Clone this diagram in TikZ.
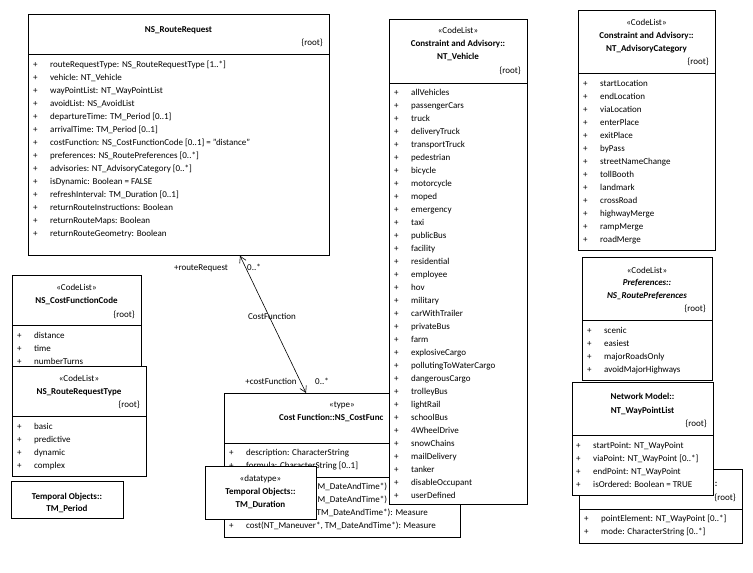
\documentclass[tikz,border=0pt]{standalone}
\usepackage{fontspec}
\setmainfont{Carlito}
\usetikzlibrary{arrows.meta}

\begin{document}
\begin{tikzpicture}
  [x=1pt,y=-1pt,
    every node/.style={inner sep=0pt,font=\fontsize{9}{13}\selectfont},
    box/.style={draw,fill=white,line width=0.8pt,anchor=north west},
    ttl/.style={anchor=mid,font=\fontsize{9}{13}\selectfont\bfseries},
    ster/.style={anchor=mid},
    root/.style={anchor=mid east},
    list/.style={anchor=north west},
    frag/.style={anchor=mid west},
    lbl/.style={anchor=mid},
    assoc/.style={line width=0.6pt,{Straight Barb[angle=60:7pt]}-{Straight Barb[angle=60:7pt]}},
]
  \useasboundingbox (0,0) rectangle (753,573);

  % route request
  \node[box,minimum width=301pt,minimum height=241pt] (req) at (28,14) {};
  \draw (28,54) -- (329,54);
  \node[ttl] (reqname) at (178.5,30) {NS\_RouteRequest};
  \node[root] (reqroot) at (323,43) {\{root\}};
  \node[list] (reqattr) at (33,58) {\begin{tabular}{@{}p{17pt}@{}l@{}}
    + & routeRequestType: NS\_RouteRequestType [1..*]\\
    + & vehicle: NT\_Vehicle\\
    + & wayPointList: NT\_WayPointList\\
    + & avoidList: NS\_AvoidList\\
    + & departureTime: TM\_Period [0..1]\\
    + & arrivalTime: TM\_Period [0..1]\\
    + & costFunction: NS\_CostFunctionCode [0..1] = "distance"\\
    + & preferences: NS\_RoutePreferences [0..*]\\
    + & advisories: NT\_AdvisoryCategory [0..*]\\
    + & isDynamic: Boolean = FALSE\\
    + & refreshInterval: TM\_Duration [0..1]\\
    + & returnRouteInstructions: Boolean\\
    + & returnRouteMaps: Boolean\\
    + & returnRouteGeometry: Boolean
  \end{tabular}};

  % cost function code
  \node[box,minimum width=129pt,minimum height=100pt] (cfc) at (12,275) {};
  \draw (12,325) -- (141,325);
  \node[ster] (cfcster) at (76.5,288) {«CodeList»};
  \node[ttl] (cfcname) at (76.5,301) {NS\_CostFunctionCode};
  \node[root] (cfcroot) at (135,315) {\{root\}};
  \node[list] (cfcattr) at (17,329) {\begin{tabular}{@{}p{17pt}@{}l@{}}
    + & distance\\
    + & time\\
    + & numberTurns
  \end{tabular}};

  % route request type
  \node[box,minimum width=134pt,minimum height=110pt] (rrt) at (12,366) {};
  \draw (12,416) -- (146,416);
  \node[ster] (rrtster) at (79,379) {«CodeList»};
  \node[ttl] (rrtname) at (79,392) {NS\_RouteRequestType};
  \node[root] (rrtroot) at (140,405) {\{root\}};
  \node[list] (rrtattr) at (17,420) {\begin{tabular}{@{}p{17pt}@{}l@{}}
    + & basic\\
    + & predictive\\
    + & dynamic\\
    + & complex
  \end{tabular}};

  % period
  \node[box,minimum width=112pt,minimum height=37pt] (period) at (11,481) {};
  \node[ttl] (periodpkg) at (67,497) {Temporal Objects::};
  \node[ttl] (periodname) at (67,509) {TM\_Period};

  % cost function
  \node[box,minimum width=236pt,minimum height=144pt] (cost) at (224,393) {};
  \draw (224,443) -- (460,443);
  \draw (224,477) -- (460,477);
  \node[ster] (costster) at (342,405) {«type»};
  \node[ttl,anchor=mid west] (costname) at (279,418) {Cost Function::NS\_CostFunc};
  \node[list] (costattr) at (229,446.5) {\begin{tabular}{@{}p{17pt}@{}l@{}}
    + & description: CharacterString\\
    + & formula: CharacterString [0..1]
  \end{tabular}};
  \node[frag] (costop1) at (317.5,486.8) {M\_DateAndTime*)};
  \node[frag] (costop2) at (317.5,499.8) {M\_DateAndTime*)};
  \node[frag] (costop3) at (316.5,512.8) {TM\_DateAndTime*): Measure};
  \node[list] (costop4) at (229,519.5) {\begin{tabular}{@{}p{17pt}@{}l@{}}
    + & cost(NT\_Maneuver*, TM\_DateAndTime*): Measure
  \end{tabular}};

  % vehicle
  \node[box,minimum width=138pt,minimum height=485pt] (veh) at (389,19) {};
  \draw (389,83) -- (527,83);
  \node[ster] (vehster) at (458,31) {«CodeList»};
  \node[ttl] (vehpkg) at (458,44) {Constraint and Advisory::};
  \node[ttl] (vehname) at (458,57) {NT\_Vehicle};
  \node[root] (vehroot) at (521,71) {\{root\}};
  \node[list] (vehattr) at (394,86.5) {\begin{tabular}{@{}p{17pt}@{}l@{}}
    + & allVehicles\\ + & passengerCars\\ + & truck\\ + & deliveryTruck\\
    + & transportTruck\\ + & pedestrian\\ + & bicycle\\ + & motorcycle\\
    + & moped\\ + & emergency\\ + & taxi\\ + & publicBus\\
    + & facility\\ + & residential\\ + & employee\\ + & hov\\
    + & military\\ + & carWithTrailer\\ + & privateBus\\ + & farm\\
    + & explosiveCargo\\ + & pollutingToWaterCargo\\ + & dangerousCargo\\ + & trolleyBus\\
    + & lightRail\\ + & schoolBus\\ + & 4WheelDrive\\ + & snowChains\\
    + & mailDelivery\\ + & tanker\\ + & disableOccupant\\ + & userDefined
  \end{tabular}};

  % duration
  \node[box,minimum width=111pt,minimum height=53pt] (dur) at (205,466) {};
  \node[ster] (durster) at (260.5,479) {«datatype»};
  \node[ttl] (durpkg) at (260.5,492) {Temporal Objects::};
  \node[ttl] (durname) at (260.5,505) {TM\_Duration};

  % advisory category
  \node[box,minimum width=137pt,minimum height=240pt] (adv) at (578,10) {};
  \draw (578,73) -- (715,73);
  \node[ster] (advster) at (646.5,23) {«CodeList»};
  \node[ttl] (advpkg) at (646.5,36) {Constraint and Advisory::};
  \node[ttl] (advname) at (646.5,49) {NT\_AdvisoryCategory};
  \node[root] (advroot) at (709,62) {\{root\}};
  \node[list] (advattr) at (583,77) {\begin{tabular}{@{}p{17pt}@{}l@{}}
    + & startLocation\\ + & endLocation\\ + & viaLocation\\ + & enterPlace\\
    + & exitPlace\\ + & byPass\\ + & streetNameChange\\ + & tollBooth\\
    + & landmark\\ + & crossRoad\\ + & highwayMerge\\ + & rampMerge\\
    + & roadMerge
  \end{tabular}};

  % preferences
  \node[box,minimum width=130pt,minimum height=123pt] (pref) at (582,257) {};
  \draw (582,320) -- (712,320);
  \node[ster] (prefster) at (647,271.5) {«CodeList»};
  \node[ttl,font=\fontsize{9}{13}\selectfont\bfseries\itshape] (prefpkg) at (647,283.5) {Preferences::};
  \node[ttl,font=\fontsize{9}{13}\selectfont\bfseries\itshape] (prefname) at (647,296) {NS\_RoutePreferences};
  \node[root] (prefroot) at (706,309.5) {\{root\}};
  \node[list] (prefattr) at (587,324) {\begin{tabular}{@{}p{17pt}@{}l@{}}
    + & scenic\\ + & easiest\\ + & majorRoadsOnly\\ + & avoidMajorHighways
  \end{tabular}};

  % list behind the way point list
  \node[box,minimum width=163pt,minimum height=74pt] (pts) at (579,469) {};
  \draw (579,509) -- (742,509);
  \node[ttl,anchor=mid east] (ptspkg) at (717.5,484) {:};
  \node[root] (ptsroot) at (736,498) {\{root\}};
  \node[list] (ptsattr) at (584,512.5) {\begin{tabular}{@{}p{17pt}@{}l@{}}
    + & pointElement: NT\_WayPoint [0..*]\\
    + & mode: CharacterString [0..*]
  \end{tabular}};

  % way point list
  \node[box,minimum width=141pt,minimum height=113pt] (wpl) at (572,382) {};
  \draw (572,435) -- (713,435);
  \node[ttl] (wplpkg) at (642.5,397) {Network Model::};
  \node[ttl] (wplname) at (642.5,411) {NT\_WayPointList};
  \node[root] (wplroot) at (707,424) {\{root\}};
  \node[list] (wplattr) at (576,439) {\begin{tabular}{@{}p{17pt}@{}l@{}}
    + & startPoint: NT\_WayPoint\\
    + & viaPoint: NT\_WayPoint [0..*]\\
    + & endPoint: NT\_WayPoint\\
    + & isOrdered: Boolean = TRUE
  \end{tabular}};

  % association
  \draw[assoc] (req.south -| 240,0) -- (cost.north -| 306,0);
  \node[lbl] (srcrole) at (201,268) {+routeRequest};
  \node[lbl] (srcmult) at (254,268) {0..*};
  \node[lbl] (assocname) at (272,317) {CostFunction};
  \node[lbl] (dstrole) at (271,382) {+costFunction};
  \node[lbl] (dstmult) at (322,382) {0..*};
\end{tikzpicture}
\end{document}
